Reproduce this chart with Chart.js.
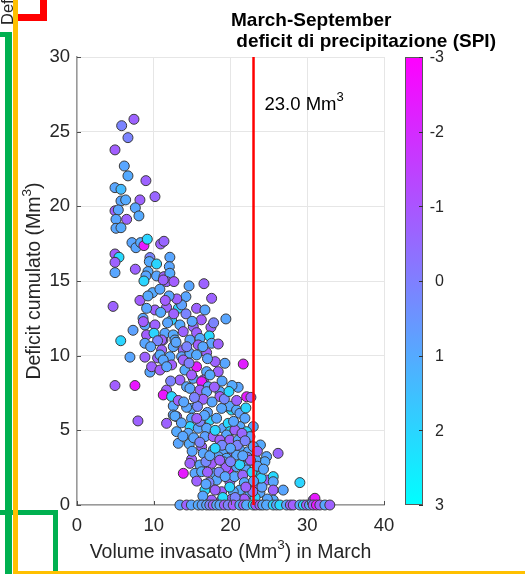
<!DOCTYPE html>
<html><head><meta charset="utf-8">
<script src="https://cdn.jsdelivr.net/npm/chart.js@4"></script>
<style>html,body{margin:0;padding:0;background:#fff;overflow:hidden}canvas{display:block}</style>
</head><body>
<canvas id="c" width="525" height="574" style="width:525px;height:574px"></canvas>
<script>
// ---- data ----
const volumeMarch = [
  // upper-left cloud
  7.42,5.82,6.64,4.95,6.16,6.64,8.98,4.95,5.73,10.16,
  5.73,6.34,8.2,7.6,4.95,5.38,8.07,5.08,6.47,5.08,
  5.73,7.16,7.68,8.29,8.72,9.16,10.9,11.33,4.95,5.47,
  4.95,4.95,7.6,9.5,12.1,9.42,10.37,12.03,9.24,8.98,
  8.72,10.37,11.33,12.1,11.67,12.63,11.24,14.6,16.54,9.85,
  10.8,14.19,17.54,
  // left, lower
  4.7,5.7,4.95,7.55,7.94,6.9,8.85,9.5,10.5,8.85,10.16,8.2,9.24,8.6,7.3,11.2,
  // central cloud
  9.07,11.67,13.2,13.63,15.58,16.67,12.33,8.64,10.16,13.41,
  15.15,17.45,19.4,9.07,10.03,11.46,12.54,13.84,15.58,17.23,
  11.03,12.76,14.71,16.02,8.85,11.03,12.54,13.84,15.8,17.54,
  18.4,10.81,12.11,13.63,14.71,15.58,16.89,11.24,12.33,13.84,
  9.72,10.81,11.68,14.06,15.58,16.89,18.4,19.27,21.66,13.41,
  15.15,16.46,17.32,14.93,14.28,16.24,17.1,11.67,11.24,12.33,
  14.71,16.02,16.89,18.62,21.0,22.1,22.66,12.54,14.93,16.46,
  18.62,12.54,12.98,14.28,19.5,20.14,19.9,20.79,21.23,18.84,
  21.88,11.67,12.76,14.93,17.32,18.19,19.06,19.7,21.23,22.97,
  14.71,15.8,16.89,19.92,12.98,14.49,16.67,17.75,19.49,20.57,
  22.09,13.2,14.63,16.24,18.62,19.92,21.01,22.53,23.9,16.46,
  17.75,19.06,20.36,21.23,22.31,22.97,26.2,14.93,18.4,19.49,
  20.79,24.7,24.48,14.71,16.02,17.54,19.06,22.09,23.3,13.85,
  15.37,16.24,17.97,19.7,20.79,22.09,23.61,24.7,25.57,25.57,
  29.04,16.67,18.19,19.92,21.23,22.53,23.61,18.84,20.36,17.54,
  18.84,20.14,21.23,22.53,23.83,25.57,26.87,25.57,30.77,31.0,
  // dense lower area
  15.2,16.0,17.0,18.0,18.9,19.4,20.5,21.6,21.8,22.8,
  23.2,24.1,17.2,16.4,15.6,18.5,19.9,20.9,21.5,17.6,
  19.2,20.2,18.0,17.0,16.2,14.2,13.0,12.0,11.5,10.9,
  14.6,13.2,15.7,13.6,20.8,22.0,23.5,24.0,22.2,15.0,
  16.8,18.0,19.0,21.8,22.9,23.5,
  13.9,15.3,16.6,17.9,18.9,19.8,20.4,21.9,22.6,23.0,
  21.2,20.0,18.6,17.3,16.0,15.6,13.8,12.2,12.9,14.3,
  16.4,15.0,17.8,12.6,11.8,10.5,9.6,18.0,21.6,20.0,
  19.3,17.0,16.8,22.0,24.3,20.6,24.8
];
const deficitCum = [
  25.83,25.4,24.6,23.78,22.7,22.04,21.72,21.25,21.14,20.65,
  20.36,20.43,20.43,19.9,19.7,19.76,19.36,19.13,19.13,18.53,
  18.57,17.57,17.23,17.57,17.37,17.8,17.48,17.66,16.81,16.59,
  16.25,15.56,15.79,16.57,16.59,16.3,16.14,15.96,15.63,15.34,
  15.0,15.34,15.29,15.52,14.96,14.96,15.07,14.67,14.82,14.22,
  14.45,13.95,13.84,
  13.3,11.0,8.0,8.0,5.63,9.9,9.9,8.9,9.85,12.05,13.06,13.7,14.0,12.5,11.7,11.05,
  13.17,13.24,13.17,13.4,13.17,13.06,12.39,12.28,12.06,12.06,
  11.94,11.9,12.46,11.39,11.5,11.5,11.39,11.61,11.54,11.32,
  11.05,11.05,11.05,11.16,10.83,10.38,10.6,10.38,10.72,10.83,
  10.78,10.05,9.93,9.93,10.16,10.05,10.2,9.71,9.38,9.71,
  9.26,9.04,9.26,9.04,9.26,8.93,8.93,9.49,9.44,8.37,
  8.48,8.37,8.71,8.71,7.92,8.26,7.92,7.7,7.37,7.26,
  7.81,7.7,7.59,7.59,7.88,7.25,7.21,6.63,6.47,7.08,
  7.26,6.03,5.92,6.54,6.58,6.36,6.62,6.36,6.14,6.47,
  5.81,5.47,5.96,5.81,5.69,5.81,5.14,5.47,5.25,5.25,
  5.25,5.14,5.14,4.91,4.91,4.8,4.58,4.58,4.69,5.02,
  4.91,4.13,4.09,3.91,4.35,4.35,4.35,4.58,4.02,3.46,
  3.68,3.68,3.57,3.68,3.57,3.91,3.46,3.06,3.24,3.13,
  3.35,3.24,2.9,2.79,2.68,2.79,2.9,2.79,3.02,2.12,
  2.12,2.23,2.12,2.35,2.57,2.35,1.9,1.67,1.9,1.56,
  1.5,1.0,1.67,1.56,1.0,1.23,1.34,0.89,0.89,0.33,
  0.33,0.38,0.33,0.78,0.83,1.0,1.0,0.33,0.33,0.45,
  4.5,5.6,6.2,5.0,4.0,2.5,1.9,2.0,1.5,2.2,
  0.5,1.2,1.5,0.6,1.6,2.2,1.2,4.0,4.8,6.9,
  7.1,8.0,9.6,9.8,12.4,12.8,13.8,14.0,13.7,12.9,
  9.5,7.0,6.6,5.5,7.0,6.5,2.6,1.8,3.2,3.6,
  2.9,1.0,0.5,0.4,0.9,3.6,
  6.9,7.2,6.0,7.9,8.3,7.6,5.6,4.3,3.0,1.6,
  2.7,2.9,3.0,3.3,4.2,5.8,4.6,8.3,10.9,10.6,
  10.6,12.3,12.2,12.8,12.2,11.0,10.6,3.8,3.3,3.8,
  1.9,2.2,1.4,1.2,2.4,0.5,0.4
];
const spiIndex = [
  -0.7,0.1,0.1,-0.8,0.9,1.0,-0.7,0.9,1.4,-0.6,
  0.9,1.0,-0.7,0.9,-0.8,0.9,1.0,0.9,-0.7,0.9,
  1.0,0.9,0.9,1.0,-2.4,2.0,-0.7,-0.6,-0.8,2.1,
  -0.7,0.9,-0.7,0.1,0.9,1.0,2.0,0.9,1.0,0.9,
  2.0,0.9,-0.7,1.0,-0.6,-0.8,-0.7,0.9,-0.7,1.0,
  0.9,0.9,-0.7,
  -0.7,2.0,-0.8,-2.5,-0.7,0.9,-0.7,0.9,-0.6,0.9,-0.7,-0.8,1.0,0.9,0.8,-0.7,
  0.9,-0.7,2.0,0.8,-0.7,0.9,1.9,-0.8,-0.7,1.0,
  -0.6,-0.7,0.9,-0.8,2.0,0.9,1.0,-0.7,-0.7,2.1,
  -0.7,0.9,0.8,1.0,0.9,-0.7,0.9,-0.6,-0.8,0.9,
  -0.7,1.0,0.9,0.8,0.9,1.0,-0.7,0.9,-0.8,-0.7,
  -0.7,-0.8,0.9,1.0,-2.4,0.9,-0.7,0.9,-2.3,-0.7,
  0.9,-0.7,1.0,-0.8,0.9,-2.4,0.9,-0.7,-2.5,2.0,
  0.9,-0.7,0.8,1.0,0.9,-2.4,-0.7,0.9,1.0,-0.7,
  -0.8,0.9,-0.7,0.9,-2.4,2.1,0.9,1.0,0.8,0.9,
  0.9,-0.7,1.0,0.9,2.0,0.9,0.8,2.1,0.9,1.0,
  2.0,0.9,0.9,2.1,1.0,0.9,0.8,-0.7,0.9,-0.7,
  2.0,0.9,1.0,-0.7,-0.8,-0.7,0.9,0.9,1.0,0.9,
  0.8,0.9,-0.7,1.0,0.9,0.9,-0.6,-0.7,0.9,1.0,
  0.9,0.9,1.0,-0.7,0.9,-0.8,0.9,1.0,0.9,-2.4,
  0.9,1.0,0.9,-2.4,0.9,0.8,2.0,-0.7,2.1,0.9,
  2.0,2.1,0.9,-0.7,1.0,0.9,-0.7,-0.8,0.9,-0.7,
  -0.7,-0.8,0.9,1.0,0.9,-0.7,0.9,1.0,-0.7,-2.4,
  0.9,0.1,0.8,2.0,0.2,-0.7,0.9,-0.6,1.0,2.1,
  1.9,0.8,0.0,0.9,-0.7,0.2,2.0,0.1,-0.6,0.9,
  0.2,1.0,-0.7,0.8,-0.8,0.1,-0.7,0.9,-0.8,1.0,
  0.0,-0.7,0.2,0.9,-0.7,2.0,0.9,1.9,0.1,0.9,
  0.2,-0.7,2.1,-0.8,0.0,-0.6,
  0.9,0.1,0.9,-0.7,0.9,2.0,0.9,0.1,-0.7,0.9,
  2.0,0.1,-0.7,0.9,0.1,-0.7,0.9,0.1,0.9,0.1,
  0.9,0.9,0.1,-0.7,0.9,0.1,0.9,2.0,0.9,0.9,
  0.9,-0.7,0.9,-0.7,0.9,0.1,0.9
];
// years with no deficit (deficit = 0)
const zeroVolume = [13.41,14.28,14.9,15.8,16.3,16.89,17.3,17.75,18.2,18.62,19.2,19.7,20.35,21.22,21.7,22.1,22.96,23.3,23.83,24.2,24.7,25.56,26.0,26.43,27.3,27.8,28.17,29.04,29.5,29.9,30.3,30.77,31.2,31.64,32.3,32.94];
const zeroSpi    = [0.9,-0.7,0.9,1.0,0.8,0.9,0.1,-0.7,0.9,0.9,-0.7,0.1,-0.8,0.9,-0.7,1.0,2.1,-0.8,-0.7,0.9,1.0,2.0,0.9,2.1,0.9,-0.7,-0.8,0.9,2.0,-0.7,0.9,-0.8,-2.4,-0.8,0.9,-0.7];

const xTicks = [0,10,20,30,40];
const yTicks = [0,5,10,15,20,25,30];
const cbTicks = [-3,-2,-1,0,1,2,3];
const thresholdX = 23.0;
const thresholdLabel = '23.0 Mm';

// ---- style ----
const FONT = "'Liberation Sans', Arial, Helvetica, sans-serif";
const TXT = '#262626';
const spiColor = v => { const t = Math.min(1, Math.max(0, (3 - v) / 6)); return `rgb(${Math.round(255*t)},${Math.round(255*(1-t))},255)`; };

const points = volumeMarch.map((x,i)=>({x, y: deficitCum[i]})).concat(zeroVolume.map(x=>({x, y:0})));
const colors = spiIndex.map(spiColor).concat(zeroSpi.map(spiColor));

function supText(ctx, pre, sup, post, cx, base, size, supSize, raise, align) {
  ctx.font = `${size}px ${FONT}`; const w1 = ctx.measureText(pre).width; const w3 = ctx.measureText(post).width;
  ctx.font = `${supSize}px ${FONT}`; const w2 = ctx.measureText(sup).width;
  let x = align === 'left' ? cx : cx - (w1+w2+w3)/2;
  ctx.textAlign = 'left'; ctx.textBaseline = 'alphabetic';
  ctx.font = `${size}px ${FONT}`; ctx.fillText(pre, x, base);
  ctx.font = `${supSize}px ${FONT}`; ctx.fillText(sup, x + w1, base - raise);
  ctx.font = `${size}px ${FONT}`; ctx.fillText(post, x + w1 + w2, base);
}

const decor = {
  id: 'decor',
  afterDatasetsDraw(chart) {
    const ctx = chart.ctx, xs = chart.scales.x, ys = chart.scales.y, a = chart.chartArea;
    ctx.save();
    // inward ticks
    ctx.strokeStyle = '#4d4d4d'; ctx.lineWidth = 1;
    xTicks.forEach(v => { const p = Math.round(xs.getPixelForValue(v)) + 0.5; ctx.beginPath(); ctx.moveTo(p, a.bottom); ctx.lineTo(p, a.bottom - 4); ctx.stroke(); });
    yTicks.forEach(v => { const p = Math.round(ys.getPixelForValue(v)) + 0.5; ctx.beginPath(); ctx.moveTo(a.left, p); ctx.lineTo(a.left + 4, p); ctx.stroke(); });
    // threshold line
    const rx = xs.getPixelForValue(thresholdX);
    ctx.strokeStyle = '#ff0000'; ctx.lineWidth = 2.5;
    ctx.beginPath(); ctx.moveTo(rx, a.top); ctx.lineTo(rx, a.bottom); ctx.stroke();
    ctx.fillStyle = '#000';
    supText(ctx, thresholdLabel, '3', '', rx + 11, ys.getPixelForValue(26.45), 18.5, 13, 9, 'left');
    ctx.restore();
  },
  afterDraw(chart) {
    const ctx = chart.ctx, a = chart.chartArea;
    ctx.save();
    // axis titles
    ctx.fillStyle = TXT;
    supText(ctx, 'Volume invasato (Mm', '3', ') in March', (a.left + a.right)/2, 558, 19.5, 13.5, 9.5);
    ctx.save(); ctx.translate(40, (a.top + a.bottom)/2); ctx.rotate(-Math.PI/2);
    supText(ctx, 'Deficit cumulato (Mm', '3', ')', 0, 0, 19.5, 13.5, 9.5); ctx.restore();
    // colorbar
    const cl = 405, cr = 423, ct = a.top, cb = a.bottom;
    const g = ctx.createLinearGradient(0, ct, 0, cb);
    g.addColorStop(0, spiColor(-3)); g.addColorStop(1, spiColor(3));
    ctx.fillStyle = g; ctx.fillRect(cl, ct, cr - cl, cb - ct);
    ctx.strokeStyle = '#595959'; ctx.lineWidth = 1; ctx.strokeRect(cl + 0.5, ct + 0.5, cr - cl - 1, cb - ct - 1);
    ctx.fillStyle = TXT; ctx.font = `16px ${FONT}`; ctx.textAlign = 'right'; ctx.textBaseline = 'middle';
    cbTicks.forEach(v => {
      const y = ct + (v - cbTicks[0]) / (cbTicks[cbTicks.length-1] - cbTicks[0]) * (cb - ct);
      ctx.strokeStyle = '#333'; ctx.beginPath(); ctx.moveTo(cr, Math.round(y)+0.5); ctx.lineTo(cr - 4, Math.round(y)+0.5); ctx.stroke();
      ctx.fillText(String(v), 444, y + 1);
    });
    // colorbar title
    ctx.fillStyle = '#000'; ctx.font = `bold 19px ${FONT}`; ctx.textAlign = 'left'; ctx.textBaseline = 'alphabetic';
    ctx.fillText('March-September', 231, 26);
    ctx.fillText(' deficit di precipitazione (SPI)', 231, 47);
    // leftover label at top-left
    ctx.fillStyle = TXT;
    ctx.save(); ctx.translate(13, 25); ctx.rotate(-Math.PI/2); ctx.font = `16.5px ${FONT}`; ctx.textAlign = 'left';
    ctx.fillText('Deficit cumulato (Mm', 0, 0); ctx.restore();
    // frame overlays
    ctx.fillStyle = '#00b050';
    ctx.fillRect(5, 32, 7, 542); ctx.fillRect(0, 32, 12, 5);
    ctx.fillRect(0, 510, 58, 5); ctx.fillRect(53, 510, 5, 64);
    ctx.fillStyle = '#ff0000';
    ctx.fillRect(18, 14, 29, 7); ctx.fillRect(40, 0, 7, 21);
    ctx.fillStyle = '#ffc000';
    ctx.fillRect(13, 0, 5, 574); ctx.fillRect(13, 571, 512, 3);
    ctx.restore();
  }
};

new Chart(document.getElementById('c'), {
  type: 'scatter',
  data: { datasets: [{ data: points, pointRadius: 5, pointHoverRadius: 5, pointBorderWidth: 1,
    pointBorderColor: '#3a3a3a', pointBackgroundColor: colors, clip: false }] },
  options: {
    responsive: false, animation: false, devicePixelRatio: 1,
    layout: { padding: { left: 0, top: 57, right: 141, bottom: 0 } },
    plugins: { legend: { display: false }, tooltip: { enabled: false } },
    scales: {
      x: { type: 'linear', min: 0, max: 40,
        afterBuildTicks: s => { s.ticks = xTicks.map(v => ({ value: v })); },
        afterFit: s => { s.height = 69; },
        ticks: { color: TXT, font: { family: FONT, size: 18.5 }, padding: 10, maxRotation: 0 },
        grid: { color: '#e6e6e6', lineWidth: 1, drawTicks: false },
        border: { display: true, color: '#9a9a9a', width: 1.5 } },
      y: { type: 'linear', min: 0, max: 30,
        afterBuildTicks: s => { s.ticks = yTicks.map(v => ({ value: v })); },
        afterFit: s => { s.width = 77; },
        ticks: { color: TXT, font: { family: FONT, size: 18.5 }, padding: 7 },
        grid: { color: '#e6e6e6', lineWidth: 1, drawTicks: false },
        border: { display: true, color: '#9a9a9a', width: 1.5 } }
    }
  },
  plugins: [decor]
});
</script></body></html>
